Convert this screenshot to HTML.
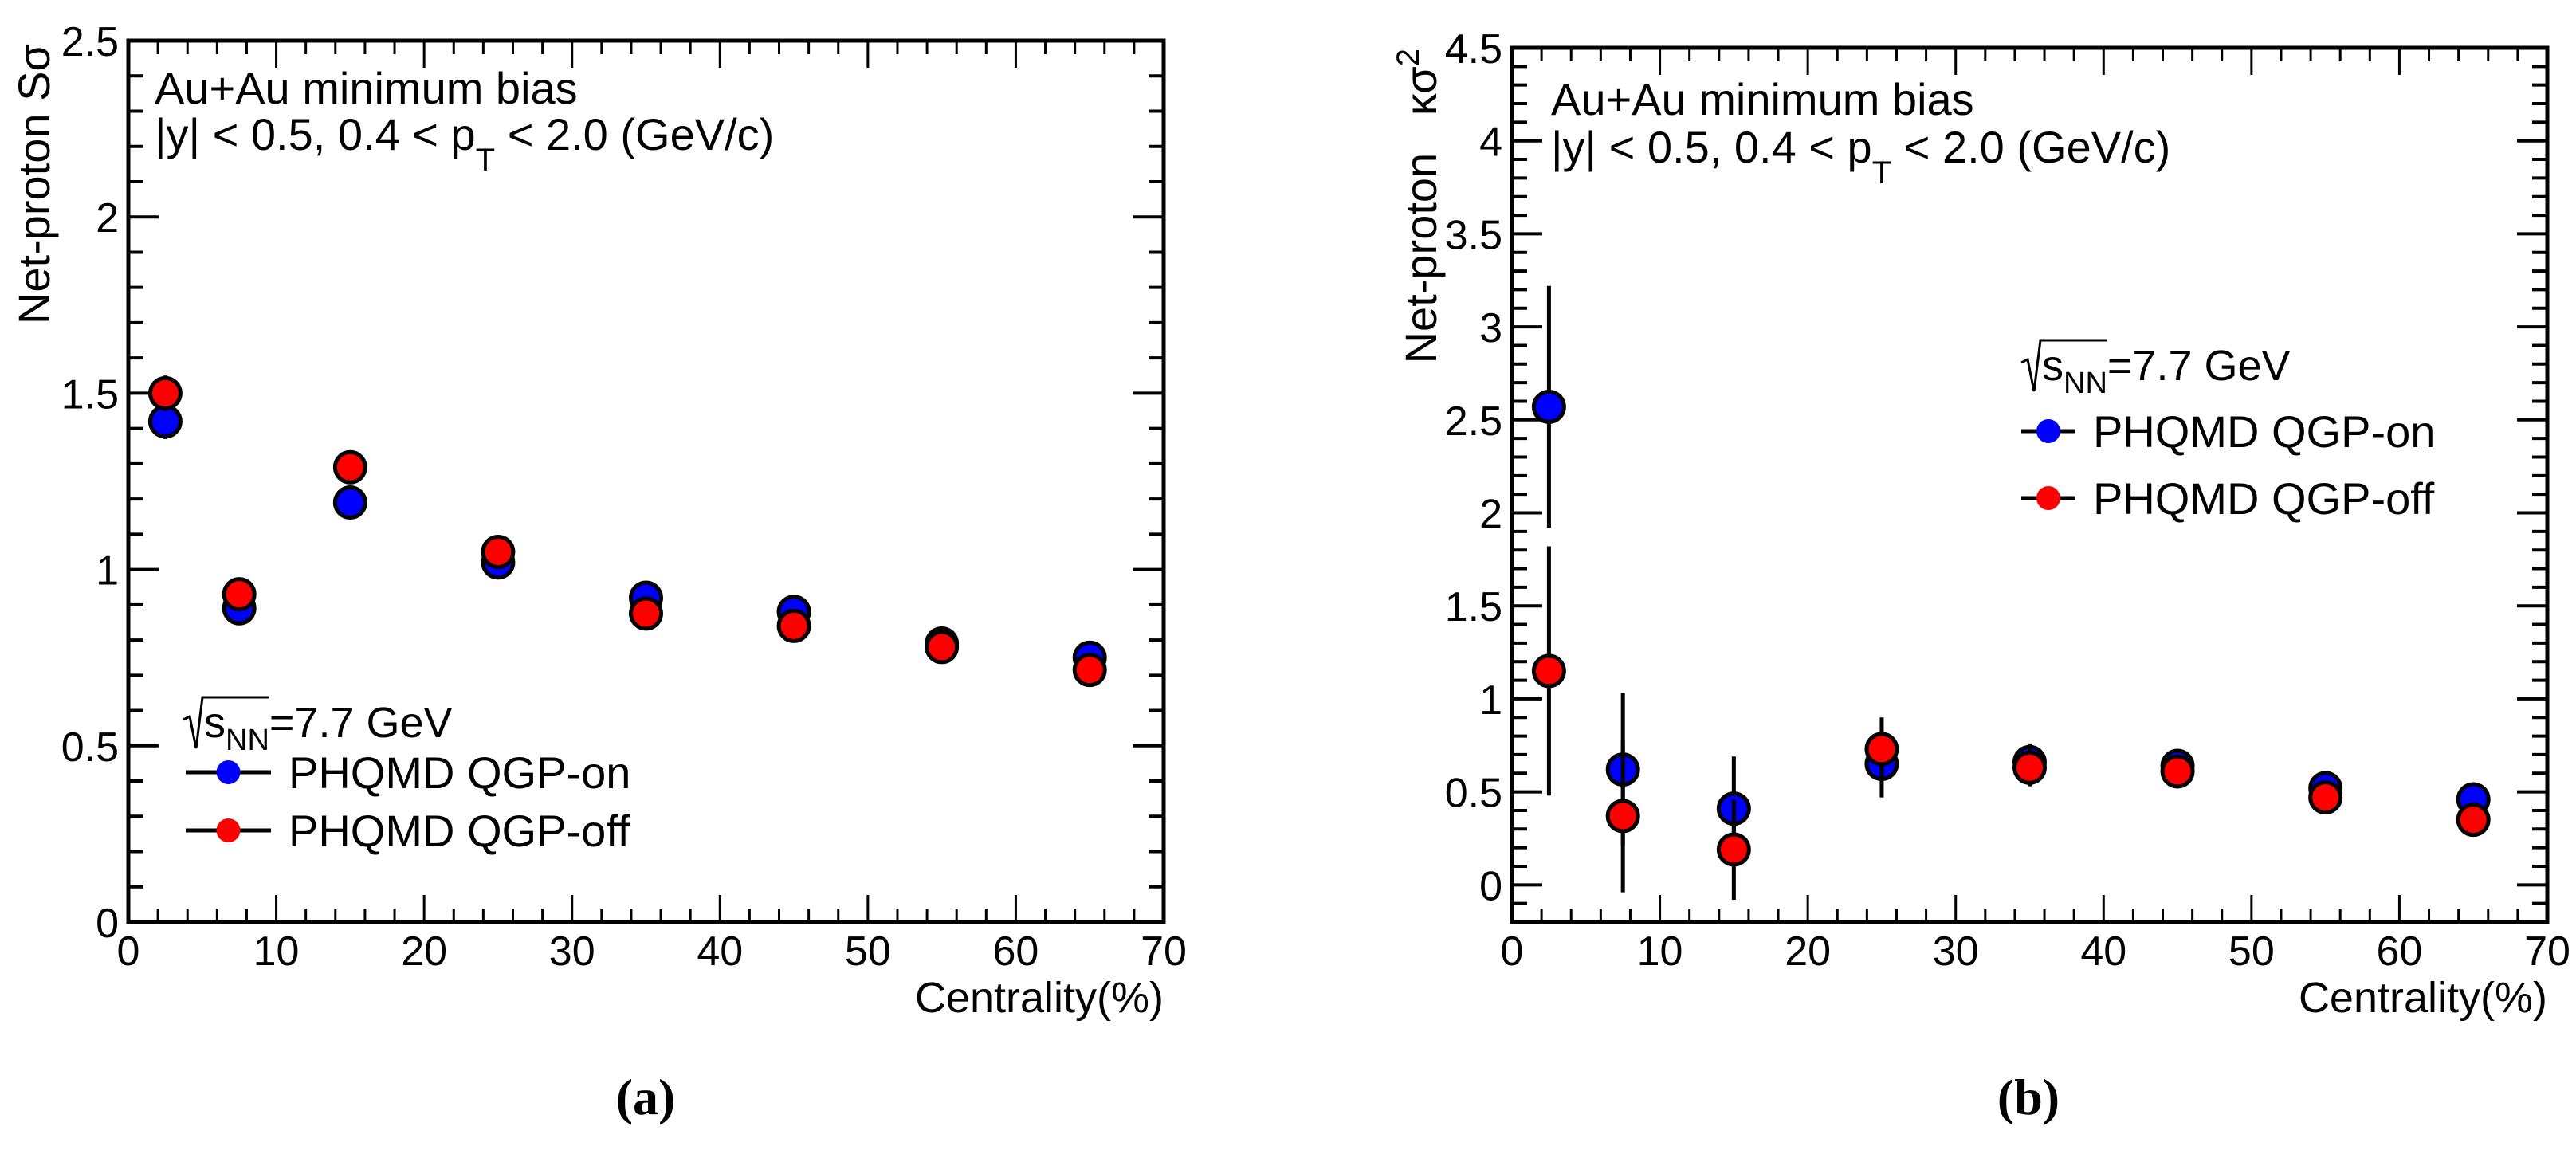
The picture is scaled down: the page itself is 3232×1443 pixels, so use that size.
<!DOCTYPE html>
<html><head><meta charset="utf-8"><style>
html,body{margin:0;padding:0;background:#fff;}
svg{display:block;font-family:"Liberation Sans",sans-serif;}
</style></head><body>
<svg id="fig" width="3232" height="1443" viewBox="0 0 3232 1443"></svg>
<script>
const centrality = [2.5, 7.5, 15, 25, 35, 45, 55, 65];
const ssOn = [1.42, 0.89, 1.19, 1.02, 0.92, 0.88, 0.79, 0.75];
const ssOff = [1.50, 0.93, 1.29, 1.05, 0.875, 0.84, 0.78, 0.715];
const ssOnErr = [0.05, 0.02, 0.02, 0.02, 0.015, 0.015, 0.015, 0.015];
const ssOffErr = [0.05, 0.02, 0.02, 0.02, 0.015, 0.015, 0.015, 0.015];
const ksOn = [2.57, 0.62, 0.41, 0.65, 0.66, 0.64, 0.52, 0.46];
const ksOff = [1.15, 0.37, 0.19, 0.73, 0.63, 0.61, 0.47, 0.35];
const ksOnErr = [0.65, 0.41, 0.28, 0.18, 0.1, 0.04, 0.04, 0.04];
const ksOffErr = [0.67, 0.41, 0.27, 0.17, 0.1, 0.04, 0.04, 0.04];
const xTicks = [0, 10, 20, 30, 40, 50, 60, 70];
const yTicksA = ["0", "0.5", "1", "1.5", "2", "2.5"];
const yTicksB = ["0", "0.5", "1", "1.5", "2", "2.5", "3", "3.5", "4", "4.5"];

const NS = "http://www.w3.org/2000/svg";
const svg = document.getElementById("fig");
function mk(tag, attrs, parent, text) {
  const e = document.createElementNS(NS, tag);
  for (const k in attrs) e.setAttribute(k, attrs[k]);
  if (text !== undefined) e.textContent = text;
  (parent || svg).appendChild(e);
  return e;
}

function panel(id, box, ymin, ymax, yLabels, onV, onE, offV, offE) {
  const g = mk("g", {});
  
  
  const X = v => box.l + (v - 0) / 70 * (box.r - box.l);
  const Y = v => box.b - (v - ymin) / (ymax - ymin) * (box.b - box.t);
  for (let v = 0; v <= 70; v += 2) {
    const major = v % 10 === 0;
    const len = major ? 34 : 17;
    mk("line", {x1: X(v), x2: X(v), y1: box.b, y2: box.b - len, stroke: "#000", "stroke-width": 3}, g);
    mk("line", {x1: X(v), x2: X(v), y1: box.t, y2: box.t + len, stroke: "#000", "stroke-width": 3}, g);
  }
  const y0 = Math.ceil(ymin * 10 - 1e-6);
  for (let i = y0; i <= Math.round(ymax * 10); i++) {
    const v = i / 10;
    const major = i % 5 === 0;
    const len = major ? 38 : 19;
    mk("line", {x1: box.l, x2: box.l + len, y1: Y(v), y2: Y(v), stroke: "#000", "stroke-width": 4}, g);
    mk("line", {x1: box.r, x2: box.r - len, y1: Y(v), y2: Y(v), stroke: "#000", "stroke-width": 4}, g);
  }
  const fr = mk("rect", {x: box.l, y: box.t, width: box.r - box.l, height: box.b - box.t, fill: "none", stroke: "#000", "stroke-width": 5}, g);
  
  
  xTicks.forEach(v => {
    const t = mk("text", {x: X(v), y: box.b + 54, "font-size": 52, "text-anchor": "middle"}, g, String(v));
    
    
  });
  yLabels.forEach(s => {
    const v = parseFloat(s);
    const t = mk("text", {x: box.l - 12, y: Y(v) + 19, "font-size": 52, "text-anchor": "end"}, g, s);
    
    
  });
  function series(vals, errs, color, name) {
    const sg = mk("g", {}, g);
    
    
    centrality.forEach((c, i) => {
      const el = mk("line", {x1: X(c), x2: X(c), y1: Y(vals[i] - errs[i]), y2: Y(vals[i] + errs[i]), stroke: "#000", "stroke-width": 5}, sg);
      
      
    });
    centrality.forEach((c, i) => {
      const p = mk("circle", {cx: X(c), cy: Y(vals[i]), r: 19, fill: color, stroke: "#000", "stroke-width": 5}, sg);
      
      
    });
  }
  series(onV, onE, "#0000ff", "qgp-on");
  series(offV, offE, "#ff0000", "qgp-off");
  return g;
}

panel("panel-a", {l: 161, r: 1460, t: 51, b: 1157}, 0, 2.5, yTicksA, ssOn, ssOnErr, ssOff, ssOffErr);
panel("panel-b", {l: 1897, r: 3196, t: 60, b: 1157}, -0.2, 4.5, yTicksB, ksOn, ksOnErr, ksOff, ksOffErr);

function text(x, y, s, size, name, extra) {
  const t = mk("text", Object.assign({x: x, y: y, "font-size": size}, extra || {}), svg, s);
  
  
  return t;
}
function subLine(x, y, name) {
  const t = mk("text", {x: x, y: y, "font-size": 56});
  
  
  mk("tspan", {}, t, "|y| < 0.5, 0.4 < p");
  mk("tspan", {dy: 26, "font-size": 40}, t, "T");
  mk("tspan", {dy: -26}, t, " < 2.0 (GeV/c)");
}
function sqrtLabel(x, y, name) {
  const g = mk("g", {});
  
  
  mk("path", {d: `M${x} ${y-22} L${x+8} ${y-26} L${x+16} ${y+14} L${x+24} ${y-50} L${x+108} ${y-50}`, fill: "none", stroke: "#000", "stroke-width": 3}, g);
  const t = mk("text", {x: x + 26, y: y, "font-size": 54}, g);
  mk("tspan", {}, t, "s");
  mk("tspan", {dy: 16, "font-size": 38}, t, "NN");
  mk("tspan", {dy: -16}, t, "=7.7 GeV");
}
function legendEntry(x, y, color, label, name, lineLen) {
  const g = mk("g", {});
  
  
  mk("line", {x1: x, x2: x + lineLen, y1: y, y2: y, stroke: "#000", "stroke-width": 5}, g);
  mk("circle", {cx: x + lineLen / 2, cy: y, r: 15, fill: color}, g);
  mk("text", {x: x + lineLen + 22, y: y + 20, "font-size": 56}, g, label);
}

text(194, 130, "Au+Au minimum bias", 56, "panel-a-annotation-system");
subLine(194, 188, "panel-a-annotation-cuts");
sqrtLabel(230, 925, "panel-a-energy-label");
legendEntry(233, 969, "#0000ff", "PHQMD QGP-on", "panel-a-legend-qgp-on", 107);
legendEntry(233, 1042, "#ff0000", "PHQMD QGP-off", "panel-a-legend-qgp-off", 107);
text(1460, 1270, "Centrality(%)", 54, "panel-a-x-axis-title", {"text-anchor": "end"});
text(0, 0, "Net-proton Sσ", 56, "panel-a-y-axis-title", {"text-anchor": "end", transform: "translate(62,55) rotate(-90)"});
text(810, 1398, "(a)", 64, "panel-a-caption", {"text-anchor": "middle", "font-family": "Liberation Serif, serif", "font-weight": "bold"});

text(1946, 144, "Au+Au minimum bias", 56, "panel-b-annotation-system");
subLine(1946, 204, "panel-b-annotation-cuts");
sqrtLabel(2536, 477, "panel-b-energy-label");
legendEntry(2536, 541, "#0000ff", "PHQMD QGP-on", "panel-b-legend-qgp-on", 68);
legendEntry(2536, 625, "#ff0000", "PHQMD QGP-off", "panel-b-legend-qgp-off", 68);
text(3196, 1270, "Centrality(%)", 54, "panel-b-x-axis-title", {"text-anchor": "end"});
const yt = mk("text", {"font-size": 56, "text-anchor": "end", transform: "translate(1802,61) rotate(-90)"});


mk("tspan", {}, yt, "Net-proton\u00A0\u00A0\u00A0κσ");
mk("tspan", {dy: -22, "font-size": 40}, yt, "2");
text(2545, 1398, "(b)", 64, "panel-b-caption", {"text-anchor": "middle", "font-family": "Liberation Serif, serif", "font-weight": "bold"});
</script>
</body></html>
